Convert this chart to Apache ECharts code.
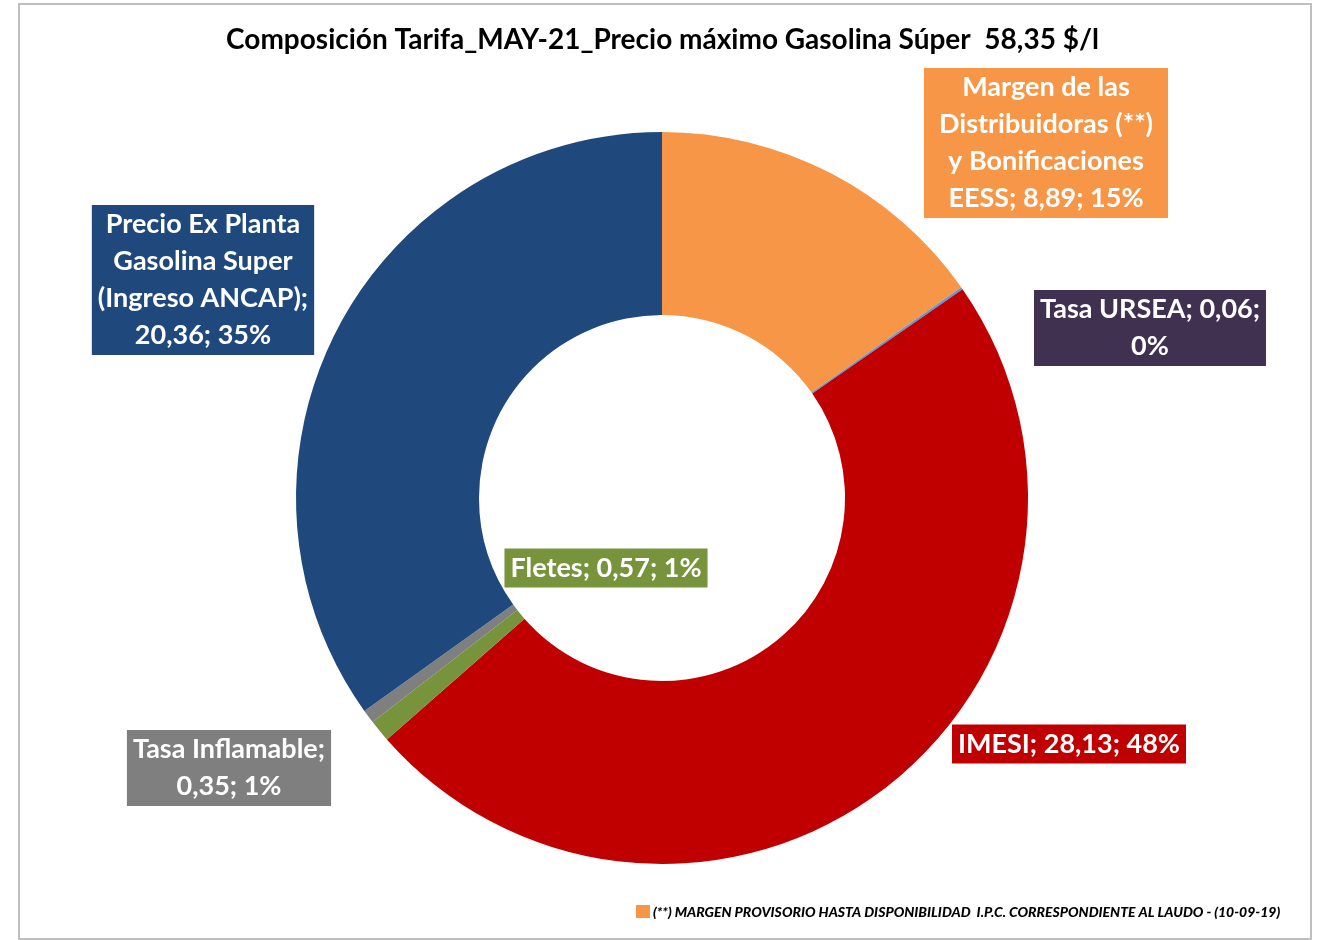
<!DOCTYPE html>
<html>
<head>
<meta charset="utf-8">
<script src="https://cdn.jsdelivr.net/npm/echarts@6/dist/echarts.min.js"></script>
<style>
  html, body { margin: 0; padding: 0; background: #fff; }
  #chart { width: 1325px; height: 940px; }
</style>
</head>
<body>
<div id="chart"></div>
<script>
// datos de la tarifa (orden horario desde las 12)
var nombres = [
    'Margen de las\nDistribuidoras (**)\ny Bonificaciones\nEESS',
    'Tasa URSEA',
    'IMESI',
    'Fletes',
    'Tasa Inflamable',
    'Precio Ex Planta\nGasolina Super\n(Ingreso ANCAP)'
];
var valores = [8.89, 0.06, 28.13, 0.57, 0.35, 20.36];
var coloresSector = ['#f79646', '#5b9bd5', '#c00000', '#77933c', '#7f7f7f', '#1f497d'];
var coloresEtiqueta = ['#f79646', '#403151', '#c00000', '#77933c', '#7f7f7f', '#1f497d'];
// separadores de linea en cada etiqueta
var sepNombre = ['; ', '; ', '; ', '; ', ';\n', ';\n'];
var sepValor = ['; ', ';\n', '; ', '; ', '; ', '; '];
// centro de cada etiqueta (px)
var posEtiqueta = [[1046, 143], [1150, 328], [1069, 744], [606, 568], [229, 768], [203, 280]];
// relleno horizontal de cada etiqueta
var rellenoH = [15, 6, 6, 6, 6, 6];

var chart = echarts.init(document.getElementById('chart'));

var fuente = 'Lato, "Open Sans", sans-serif';

var data = valores.map(function (v, i) {
    return {
        name: nombres[i],
        value: v,
        itemStyle: {color: coloresSector[i]},
        label: {
            backgroundColor: coloresEtiqueta[i],
            padding: [2, rellenoH[i], 0, rellenoH[i]]
        }
    };
});

var option = {
    backgroundColor: '#ffffff',
    title: {
        text: 'Composición Tarifa_MAY-21_Precio máximo Gasolina Súper  58,35 $/l',
        left: 'center',
        top: 21,
        textStyle: {
            fontFamily: fuente,
            fontWeight: 'bold',
            fontSize: 28,
            color: '#000'
        }
    },
    animation: false,
    series: [{
        type: 'pie',
        center: [662, 498],
        radius: [183, 366],
        startAngle: 90,
        clockwise: true,
        percentPrecision: 0,
        avoidLabelOverlap: false,
        itemStyle: {borderWidth: 0},
        labelLine: {show: false},
        label: {
            show: true,
            position: 'outside',
            color: '#fff',
            fontFamily: fuente,
            fontWeight: 'bold',
            fontSize: 27,
            lineHeight: 37,
            align: 'center',
            formatter: function (p) {
                var i = p.dataIndex;
                var v = p.value.toFixed(2).replace('.', ',');
                return p.name + sepNombre[i] + v + sepValor[i] + p.percent + '%';
            }
        },
        labelLayout: function (p) {
            var pos = posEtiqueta[p.dataIndex];
            return {
                x: pos[0],
                y: pos[1],
                align: 'center',
                verticalAlign: 'middle'
            };
        },
        emphasis: {disabled: true},
        data: data
    }],
    graphic: [
        {
            type: 'rect',
            shape: {x: 19, y: 4, width: 1292, height: 935},
            style: {fill: 'none', stroke: '#bfbfbf', lineWidth: 2},
            silent: true
        },
        {
            type: 'rect',
            shape: {x: 636, y: 905, width: 14, height: 13},
            style: {fill: '#f79646'},
            silent: true
        },
        {
            type: 'text',
            x: 653,
            y: 912,
            style: {
                text: '(**) MARGEN PROVISORIO HASTA DISPONIBILIDAD  I.P.C. CORRESPONDIENTE AL LAUDO - (10-09-19)',
                font: 'italic 900 14px ' + fuente,
                fill: '#000',
                verticalAlign: 'middle'
            },
            silent: true
        }
    ]
};

chart.setOption(option);
window.addEventListener('resize', function () {
    chart.resize();
});
</script>
</body>
</html>
